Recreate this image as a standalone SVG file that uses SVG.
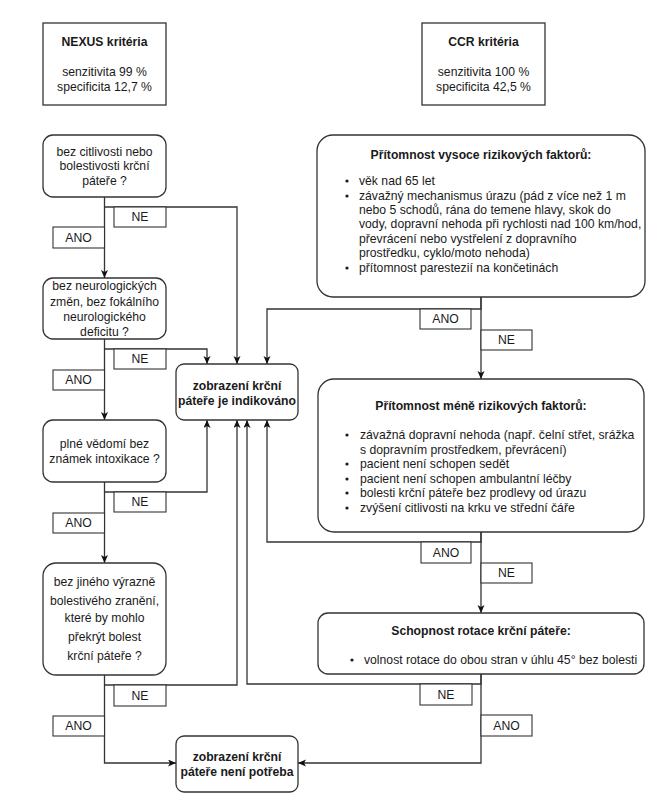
<svg xmlns="http://www.w3.org/2000/svg" width="669" height="800" viewBox="0 0 669 800">
<defs>
<style>
.box{fill:#fff;stroke:#333;stroke-width:1.3}
.lbl{fill:#fff;stroke:#333;stroke-width:1.1}
.t{font-family:"Liberation Sans",Arial,sans-serif;font-size:12.2px;fill:#1a1a1a}
.c{text-anchor:middle}
.b{font-weight:bold}
.ln{fill:none;stroke:#333;stroke-width:1.3}
.arr{marker-end:url(#ah)}
</style>
<marker id="ah" markerWidth="9" markerHeight="8" refX="8" refY="3.5" orient="auto" markerUnits="userSpaceOnUse">
<path d="M0,0 L8,3.5 L0,7 L2,3.5 z" fill="#111"/>
</marker>
</defs>
<rect width="669" height="800" fill="#fff"/>

<g id="connectors">
<path class="ln arr" d="M104.5,197 V278"/>
<path class="ln arr" d="M104.5,207 H237 V364"/>
<path class="ln arr" d="M104.5,339 V420"/>
<path class="ln arr" d="M104.5,349 H207 V364"/>
<path class="ln arr" d="M104.5,482 V563"/>
<path class="ln arr" d="M104.5,492 H207 V420"/>
<path class="ln arr" d="M104.5,675 V763 H176"/>
<path class="ln arr" d="M104.5,685 H237 V420"/>
<path class="ln arr" d="M481,297 V309 H267 V364"/>
<path class="ln arr" d="M481,297 V379"/>
<path class="ln arr" d="M481,532 V542 H267 V420"/>
<path class="ln arr" d="M481,532 V613"/>
<path class="ln arr" d="M481,674 V684 H247 V420"/>
<path class="ln arr" d="M481,674 V763 H298"/>
</g>

<g id="labels">
<rect class="lbl" x="114" y="207" width="52" height="20"/><text class="t c" x="140" y="221">NE</text>
<rect class="lbl" x="53" y="227" width="51.5" height="21"/><text class="t c" x="78.5" y="242">ANO</text>
<rect class="lbl" x="114" y="349" width="52" height="20"/><text class="t c" x="140" y="363">NE</text>
<rect class="lbl" x="53" y="370" width="51.5" height="20"/><text class="t c" x="78.5" y="384">ANO</text>
<rect class="lbl" x="114" y="492" width="52" height="20"/><text class="t c" x="140" y="506">NE</text>
<rect class="lbl" x="53" y="513" width="51.5" height="20"/><text class="t c" x="78.5" y="527">ANO</text>
<rect class="lbl" x="114" y="685" width="52" height="21"/><text class="t c" x="140" y="700">NE</text>
<rect class="lbl" x="53" y="716" width="51.5" height="20"/><text class="t c" x="78.5" y="730">ANO</text>
<rect class="lbl" x="420" y="309" width="51" height="20"/><text class="t c" x="445.5" y="323">ANO</text>
<rect class="lbl" x="481" y="330" width="51" height="20"/><text class="t c" x="506.5" y="344">NE</text>
<rect class="lbl" x="421" y="542" width="50" height="21"/><text class="t c" x="446" y="557">ANO</text>
<rect class="lbl" x="481" y="563" width="51" height="20"/><text class="t c" x="506.5" y="577">NE</text>
<rect class="lbl" x="420" y="684" width="52" height="21"/><text class="t c" x="446" y="699">NE</text>
<rect class="lbl" x="481" y="715" width="51" height="21"/><text class="t c" x="506.5" y="730">ANO</text>
</g>

<g id="nexus">
<rect class="box" x="43" y="23" width="123" height="82"/>
<text class="t c b" x="104.5" y="46">NEXUS kritéria</text>
<text class="t c" x="104.5" y="76">senzitivita 99 %</text>
<text class="t c" x="104.5" y="91">specificita 12,7 %</text>
</g>

<g id="ccr">
<rect class="box" x="422" y="23" width="123" height="82"/>
<text class="t c b" x="483.5" y="46">CCR kritéria</text>
<text class="t c" x="483.5" y="76">senzitivita 100 %</text>
<text class="t c" x="483.5" y="91">specificita 42,5 %</text>
</g>

<g id="q1">
<rect class="box" x="43" y="135" width="123" height="62" rx="10"/>
<text class="t c" x="104.5" y="156">bez citlivosti nebo</text>
<text class="t c" x="104.5" y="170">bolestivosti krční</text>
<text class="t c" x="104.5" y="185">páteře ?</text>
</g>

<g id="q2">
<rect class="box" x="43" y="278" width="123" height="61" rx="10"/>
<text class="t c" x="104.5" y="290">bez neurologických</text>
<text class="t c" x="104.5" y="306">změn, bez fokálního</text>
<text class="t c" x="104.5" y="321">neurologického</text>
<text class="t c" x="104.5" y="336">deficitu ?</text>
</g>

<g id="q3">
<rect class="box" x="43" y="420" width="123" height="62" rx="10"/>
<text class="t c" x="104.5" y="448">plné vědomí bez</text>
<text class="t c" x="104.5" y="463">známek intoxikace ?</text>
</g>

<g id="q4">
<rect class="box" x="43" y="563" width="123" height="112" rx="13"/>
<text class="t c" x="104.5" y="586">bez jiného výrazně</text>
<text class="t c" x="104.5" y="605">bolestivého zranění,</text>
<text class="t c" x="104.5" y="622">které by mohlo</text>
<text class="t c" x="104.5" y="641">překrýt bolest</text>
<text class="t c" x="104.5" y="660">krční páteře ?</text>
</g>

<g id="indicated">
<rect class="box" x="176" y="364" width="122" height="56" rx="8"/>
<text class="t c b" x="237" y="390">zobrazení krční</text>
<text class="t c b" x="237" y="405">páteře je indikováno</text>
</g>

<g id="notneeded">
<rect class="box" x="176" y="736" width="122" height="56" rx="8"/>
<text class="t c b" x="237" y="761">zobrazení krční</text>
<text class="t c b" x="237" y="776">páteře není potřeba</text>
</g>

<g id="highrisk">
<rect class="box" x="317" y="135" width="328" height="162" rx="16"/>
<text class="t c b" x="481" y="159">Přítomnost vysoce rizikových faktorů:</text>
<circle cx="347" cy="181" r="1.6" fill="#1a1a1a"/>
<circle cx="347" cy="196" r="1.6" fill="#1a1a1a"/>
<circle cx="347" cy="268" r="1.6" fill="#1a1a1a"/>
<text class="t" x="359" y="185">věk nad 65 let</text>
<text class="t" x="359" y="200">závažný mechanismus úrazu (pád z více než 1 m</text>
<text class="t" x="359" y="214">nebo 5 schodů, rána do temene hlavy, skok do</text>
<text class="t" x="359" y="228">vody, dopravní nehoda při rychlosti nad 100 km/hod,</text>
<text class="t" x="359" y="243">převrácení nebo vystřelení z dopravního</text>
<text class="t" x="359" y="257">prostředku, cyklo/moto nehoda)</text>
<text class="t" x="359" y="272">přítomnost parestezií na končetinách</text>
</g>

<g id="lessrisk">
<rect class="box" x="318" y="379" width="326" height="153" rx="16"/>
<text class="t c b" x="481" y="410">Přítomnost méně rizikových faktorů:</text>
<circle cx="347" cy="435" r="1.6" fill="#1a1a1a"/>
<circle cx="347" cy="464" r="1.6" fill="#1a1a1a"/>
<circle cx="347" cy="479" r="1.6" fill="#1a1a1a"/>
<circle cx="347" cy="493" r="1.6" fill="#1a1a1a"/>
<circle cx="347" cy="508" r="1.6" fill="#1a1a1a"/>
<text class="t" x="360" y="439">závažná dopravní nehoda (např. čelní střet, srážka</text>
<text class="t" x="360" y="454">s dopravním prostředkem, převrácení)</text>
<text class="t" x="360" y="468">pacient není schopen sedět</text>
<text class="t" x="360" y="483">pacient není schopen ambulantní léčby</text>
<text class="t" x="360" y="497">bolesti krční páteře bez prodlevy od úrazu</text>
<text class="t" x="360" y="512">zvýšení citlivosti na krku ve střední čáře</text>
</g>

<g id="rotation">
<rect class="box" x="318" y="613" width="326" height="61" rx="10"/>
<text class="t c b" x="481" y="635">Schopnost rotace krční páteře:</text>
<circle cx="352" cy="660" r="1.6" fill="#1a1a1a"/>
<text class="t" x="364" y="664">volnost rotace do obou stran v úhlu 45° bez bolesti</text>
</g>
</svg>
